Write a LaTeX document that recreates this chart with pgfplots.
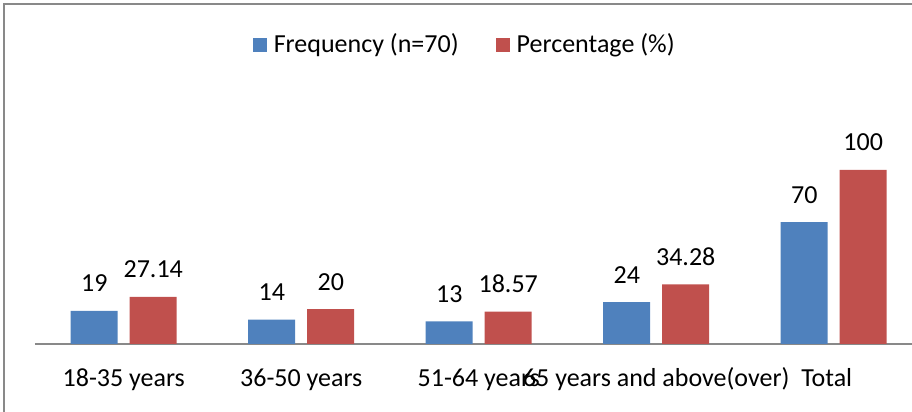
\documentclass[border=0pt]{standalone}
\usepackage{pgfplots}
\pgfplotsset{compat=1.18}
\usepackage{fontspec}
\setmainfont{Carlito}
\definecolor{cblue}{HTML}{4F81BD}
\definecolor{cred}{HTML}{C0504D}
\definecolor{cgray}{HTML}{898989}
\begin{document}
\fontsize{13pt}{15pt}\selectfont
\begin{tikzpicture}
\path[use as bounding box] (0,0) rectangle (456pt,206pt);
\draw[cgray, line width=1pt] (2pt,-10pt) -- (2pt,204pt) -- (480pt,204pt);
\begin{axis}[
  at={(17.5pt,34pt)}, anchor=south west,
  scale only axis, width=443.75pt, height=104.4pt,
  ybar=6pt, bar width=23.5pt,
  xmin=-0.5, xmax=4.5, ymin=0, ymax=120,
  xtick={0,1,2,3,4},
  xticklabels={18-35 years,36-50 years,51-64 years,65 years and above(over),\hspace*{-7pt}Total},
  xticklabel style={anchor=base, yshift=-21.5pt, font=\fontsize{13pt}{15pt}\selectfont},
  major tick length=0pt,
  axis x line*=bottom, axis line style={cgray, line width=0.8pt, -},
  hide y axis,
  clip=false,
  /pgf/number format/assume math mode=true,
  nodes near coords,
  every node near coord/.append style={anchor=base, yshift=9.5pt, font=\fontsize{13pt}{15pt}\selectfont, text=black},
  legend style={draw=none, at={(0.487,1.43)}, anchor=center, font=\fontsize{13pt}{15pt}\selectfont, legend columns=2, /tikz/every even column/.append style={column sep=15pt}, inner sep=0pt, nodes={inner xsep=3.5pt}},
  legend image code/.code={\fill[#1] (0pt,-3.5pt) rectangle (7pt,3.5pt);},
]
\addplot[fill=cblue, draw=none] coordinates {(0,19) (1,14) (2,13) (3,24) (4,70)};
\addplot[fill=cred, draw=none] coordinates {(0,27.14) (1,20) (2,18.57) (3,34.28) (4,100)};
\legend{Frequency (n=70),Percentage (\%)}
\end{axis}
\end{tikzpicture}
\end{document}
